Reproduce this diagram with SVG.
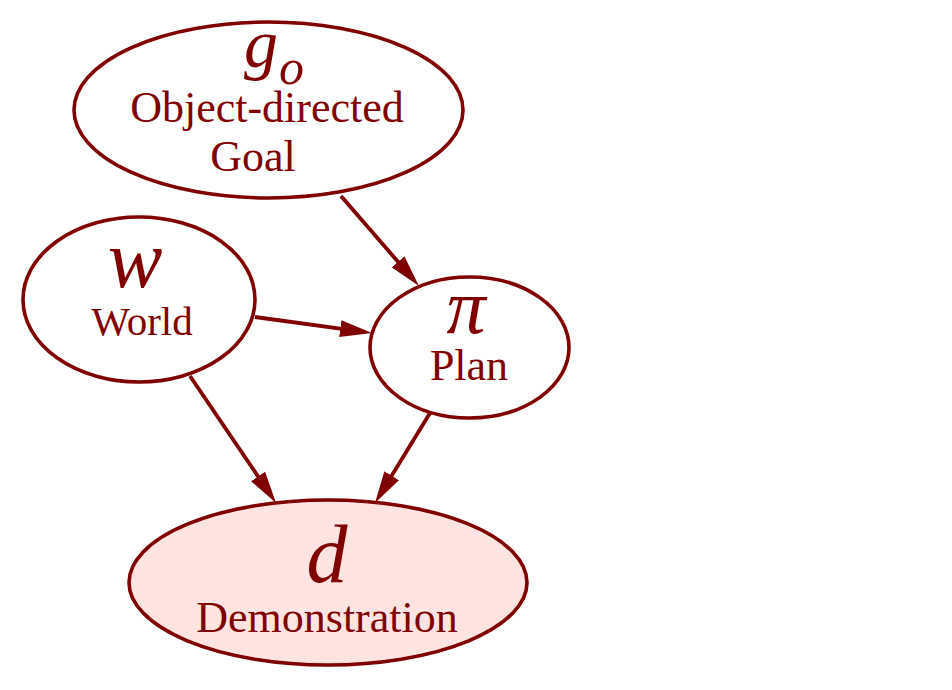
<svg xmlns="http://www.w3.org/2000/svg" width="952" height="690" viewBox="0 0 952 690">
<style>
.node{fill:#ffffff;stroke:#800000;stroke-width:3.6}
.obs{fill:#ffe4e1}
.math{font-family:"Liberation Serif","DejaVu Serif",serif;font-style:italic;font-size:82px;fill:#800000;text-anchor:middle}
.sub{font-family:"Liberation Serif","DejaVu Serif",serif;font-style:italic;font-size:50px;fill:#800000}
.lbl{font-family:"Liberation Serif","DejaVu Serif",serif;font-size:44px;fill:#800000;text-anchor:middle}
.edge{fill:none;stroke:#800000;stroke-width:3.8}
</style>
<defs>
<marker id="ah" markerUnits="userSpaceOnUse" markerWidth="34" markerHeight="22" viewBox="0 -11 34 22" refX="22" refY="0" orient="auto">
<path d="M0,-8.5 L32,0 L0,8.5 z" fill="#800000"/>
</marker>
</defs>
<rect width="952" height="690" fill="#ffffff"/>
<g id="connectors">
<line class="edge" x1="341" y1="196" x2="412.4" y2="278.4" marker-end="url(#ah)"/>
<line class="edge" x1="255" y1="317" x2="362.1" y2="331.6" marker-end="url(#ah)"/>
<line class="edge" x1="190" y1="376" x2="270.4" y2="494.7" marker-end="url(#ah)"/>
<line class="edge" x1="430" y1="413" x2="380.2" y2="494.5" marker-end="url(#ah)"/>
</g>
<g id="goal">
<ellipse class="node" cx="268.5" cy="110" rx="194.5" ry="88"/>
<text class="math" x="261" y="67" style="font-size:68px">g</text>
<text class="sub" x="279" y="84">o</text>
<text class="lbl" x="267" y="122">Object-directed</text>
<text class="lbl" x="253" y="171">Goal</text>
</g>
<g id="world">
<ellipse class="node" cx="139" cy="299.5" rx="116" ry="82.5"/>
<text class="math" x="135" y="287">w</text>
<text class="lbl" x="142" y="335" style="font-size:41px">World</text>
</g>
<g id="plan">
<ellipse class="node" cx="469.5" cy="347.5" rx="99.5" ry="70.5"/>
<text class="math" x="466" y="333" style="font-size:78px">π</text>
<text class="lbl" x="469" y="380">Plan</text>
</g>
<g id="demonstration">
<ellipse class="node obs" cx="328" cy="582.5" rx="199" ry="82.5"/>
<text class="math" x="327" y="582">d</text>
<text class="lbl" x="327" y="632">Demonstration</text>
</g>
</svg>
